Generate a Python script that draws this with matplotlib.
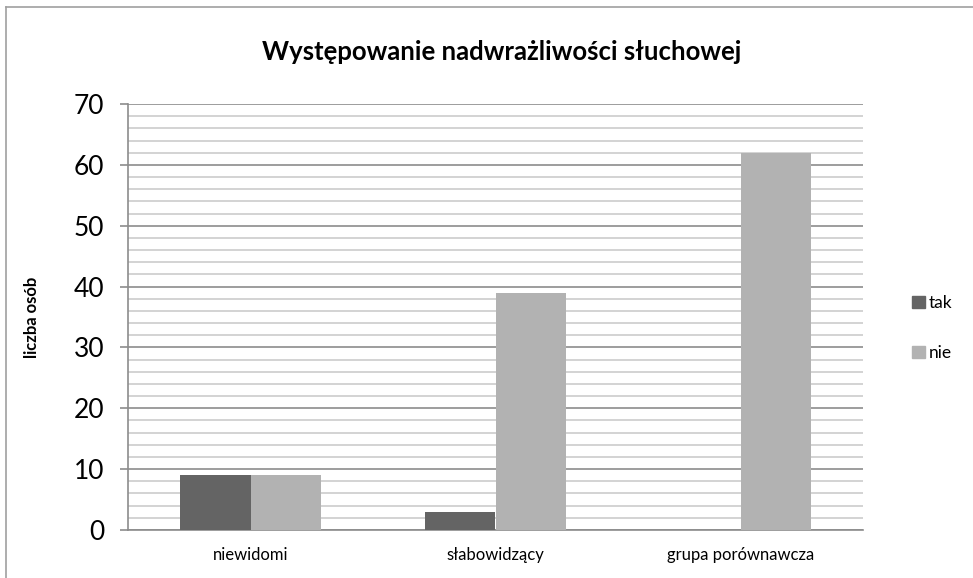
import matplotlib.pyplot as plt
from matplotlib.lines import Line2D
from matplotlib.patches import Patch
import numpy as np

plt.rcParams['font.family'] = ['Lato', 'DejaVu Sans']

categories = ['niewidomi', 'słabowidzący', 'grupa porównawcza']
tak = [9, 3, 0]
nie = [9, 39, 62]
series_names = ['tak', 'nie']
colors = ['#646464', '#b2b2b2']

W, H = 973, 578
fig = plt.figure(figsize=(W / 100, H / 100), dpi=100)
ax = fig.add_axes([128 / W, 1 - 530 / H, (863 - 128) / W, (530 - 104) / H])

x = np.arange(len(categories))
bw = 0.286
ax.bar(x - bw / 2, tak, bw, color=colors[0], zorder=3)
ax.bar(x + bw / 2, nie, bw, color=colors[1], zorder=3)

ax.set_xlim(-0.5, 2.5)
ax.set_ylim(0, 70)
ax.set_yticks(np.arange(0, 71, 10))
ax.set_yticks(np.arange(0, 71, 2), minor=True)
ax.yaxis.grid(True, which='major', color='#8c8c8c', lw=1.2, zorder=1)
ax.yaxis.grid(True, which='minor', color='#cccccc', lw=1.2, zorder=1)
ax.tick_params(axis='y', which='major', length=6, width=1.2, color='#8c8c8c',
               labelsize=19, pad=11)
ax.tick_params(axis='y', which='minor', length=0)
ax.set_xticks(x)
ax.set_xticklabels(categories)
ax.tick_params(axis='x', length=0, labelsize=12, pad=12)

for s in ['top', 'right']:
    ax.spines[s].set_visible(False)
for s in ['left', 'bottom']:
    ax.spines[s].set_color('#8c8c8c')
    ax.spines[s].set_linewidth(1.2)

ax.set_ylabel('liczba osób', fontsize=12, fontweight='bold')
ax.yaxis.set_label_coords(-88 / 735, 0.5)

fig.text(502 / W, 1 - 52 / H, 'Występowanie nadwrażliwości słuchowej',
         ha='center', va='center', fontsize=18.5, fontweight='bold')

handles = [Patch(color=c) for c in colors]
fig.legend(handles, series_names, loc='center left',
           bbox_to_anchor=(896 / W, 1 - 328 / H), frameon=False,
           fontsize=12.5, handlelength=0.75, handleheight=0.75,
           handletextpad=0.25, labelspacing=1.95)

# chart frame (left and top edges)
fig.add_artist(Line2D([5.5 / W, 5.5 / W], [0, 1 - 7 / H], transform=fig.transFigure,
                      color='#a0a0a0', lw=1.2))
fig.add_artist(Line2D([5.5 / W, 1], [1 - 7 / H, 1 - 7 / H], transform=fig.transFigure,
                      color='#a0a0a0', lw=1.2))

fig.savefig('out.png', dpi=100)
